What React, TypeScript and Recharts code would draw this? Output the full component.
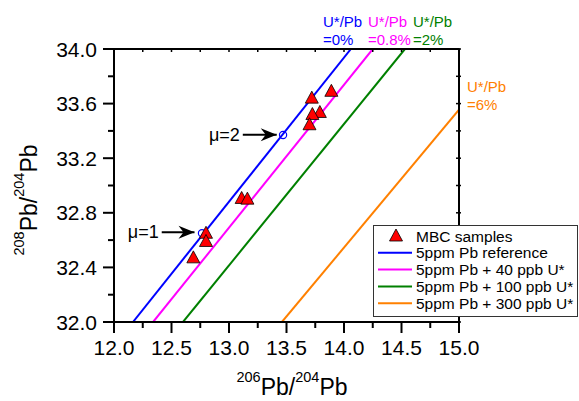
import React from 'react';
import { ComposedChart, Line, Scatter, XAxis, YAxis } from 'recharts';

const FONT = "Arial, 'Liberation Sans', Helvetica, sans-serif";

// axis ticks
const xMajorTicks = [12.0, 12.5, 13.0, 13.5, 14.0, 14.5, 15.0];
const xMinorTicks = [12.25, 12.75, 13.25, 13.75, 14.25, 14.75];
const yMajorTicks = [32.0, 32.4, 32.8, 33.2, 33.6, 34.0];
const yMinorTicks = [32.2, 32.6, 33.0, 33.4, 33.8];

// MBC samples
const sampleX = [13.72, 13.89, 13.79, 13.725, 13.70, 13.11, 13.16, 12.80, 12.80, 12.69];
const sampleY = [33.64, 33.69, 33.535, 33.52, 33.445, 32.905, 32.90, 32.65, 32.59, 32.47];

// mu markers and arrows
const muLabels = ['μ=1', 'μ=2'];
const muX = [12.765, 13.47];
const muY = [32.65, 33.37];
const arrowStartX = [12.415, 13.12];
const arrowEndX = [12.70, 13.415];
const arrowY = [32.657, 33.372];

// reference growth lines
const refNames = [
  '5ppm Pb reference',
  '5ppm Pb + 40 ppb U*',
  '5ppm Pb + 100 ppb U*',
  '5ppm Pb + 300 ppb U*',
];
const refColors = ['#0000FF', '#FF00FF', '#008000', '#FF8000'];
const refStartX = [12.165, 12.34, 12.60, 13.46];
const refStartY = [32.0, 32.0, 32.0, 32.0];
const refEndX = [14.06, 14.25, 14.53, 15.0];
const refEndY = [34.0, 34.0, 34.0, 33.555];
const ratioTop = ['U*/Pb', 'U*/Pb', 'U*/Pb', 'U*/Pb'];
const ratioBottom = ['=0%', '=0.8%', '=2%', '=6%'];
const ratioLabelPos = [
  [323, 27],
  [368, 27],
  [413, 27],
  [467, 92],
];

const sampleData = sampleX.map((x, i) => ({ x, y: sampleY[i] }));
const muData = muX.map((x, i) => ({ x, y: muY[i] }));
const arrowTipData = arrowEndX.map((x, i) => ({ x, y: arrowY[i] }));
const arrowLabelData = arrowStartX.map((x, i) => ({ x, y: arrowY[i], label: muLabels[i] }));
const arrowLines = arrowStartX.map((x, i) => [
  { x, y: arrowY[i] },
  { x: arrowEndX[i], y: arrowY[i] },
]);
const refLines = refNames.map((name, i) => ({
  name,
  color: refColors[i],
  data: [
    { x: refStartX[i], y: refStartY[i] },
    { x: refEndX[i], y: refEndY[i] },
  ],
}));

const allX = [...xMajorTicks, ...xMinorTicks].sort((a, b) => a - b);
const allY = [...yMajorTicks, ...yMinorTicks].sort((a, b) => a - b);

const XTick = (props: any) => {
  const { x, y, payload } = props;
  const major = xMajorTicks.includes(payload.value);
  return (
    <g>
      <line x1={x} y1={y} x2={x} y2={y + (major ? 11 : 6)} stroke="#000" strokeWidth={2} />
      {major && (
        <text x={x} y={y + 33} textAnchor="middle" fontSize={21} fontFamily={FONT} fill="#000">
          {payload.value.toFixed(1)}
        </text>
      )}
    </g>
  );
};

const YTick = (props: any) => {
  const { x, y, payload } = props;
  const major = yMajorTicks.includes(payload.value);
  return (
    <g>
      <line x1={x} y1={y} x2={x - (major ? 11 : 6)} y2={y} stroke="#000" strokeWidth={2} />
      {major && (
        <text x={x - 17} y={y + 7.5} textAnchor="end" fontSize={21} fontFamily={FONT} fill="#000">
          {payload.value.toFixed(1)}
        </text>
      )}
    </g>
  );
};

const TopTick = (props: any) => {
  const { x, y } = props;
  return <line x1={x} y1={y - 1} x2={x} y2={y + 3} stroke="#000" strokeWidth={1.5} />;
};

const RightTick = (props: any) => {
  const { x, y } = props;
  return <line x1={x - 3} y1={y} x2={x + 2} y2={y} stroke="#000" strokeWidth={1.5} />;
};

const Triangle = (props: any) => {
  const { cx, cy } = props;
  return (
    <polygon
      points={`${cx},${cy - 7} ${cx - 6.5},${cy + 5} ${cx + 6.5},${cy + 5}`}
      fill="#FF0000"
      stroke="#000"
      strokeWidth={0.8}
    />
  );
};

const MuCircle = (props: any) => {
  const { cx, cy } = props;
  return <circle cx={cx} cy={cy} r={3.6} fill="none" stroke="#0000FF" strokeWidth={1.2} />;
};

const ArrowHead = (props: any) => {
  const { cx, cy } = props;
  return (
    <polygon
      points={`${cx},${cy} ${cx - 16},${cy - 6.5} ${cx - 11},${cy} ${cx - 16},${cy + 6.5}`}
      fill="#000"
    />
  );
};

const ArrowLabel = (props: any) => {
  const { cx, cy, payload } = props;
  return (
    <text x={cx - 3} y={cy + 6} textAnchor="end" fontSize={18} fontFamily={FONT} fill="#000">
      {payload.label}
    </text>
  );
};

export default function App() {
  return (
    <div style={{ position: 'absolute', left: 0, top: 0, width: 579, height: 401, background: '#fff', overflow: 'hidden' }}>
      <ComposedChart
        width={579}
        height={401}
        margin={{ top: 48, right: 119, left: 0, bottom: 0 }}
      >
        <XAxis
          xAxisId="b"
          dataKey="x"
          type="number"
          domain={[12, 15]}
          ticks={allX}
          interval={0}
          allowDataOverflow
          height={79}
          tickSize={0}
          tickMargin={0}
          tick={<XTick />}
          axisLine={{ stroke: '#000', strokeWidth: 2 }}
        />
        <XAxis
          xAxisId="t"
          dataKey="x"
          type="number"
          orientation="top"
          domain={[12, 15]}
          ticks={allX}
          interval={0}
          allowDataOverflow
          height={1}
          tickSize={0}
          tickMargin={0}
          tick={<TopTick />}
          axisLine={{ stroke: '#000', strokeWidth: 2 }}
        />
        <YAxis
          yAxisId="l"
          type="number"
          domain={[32, 34]}
          ticks={allY}
          interval={0}
          allowDataOverflow
          width={114}
          tickSize={0}
          tickMargin={0}
          tick={<YTick />}
          axisLine={{ stroke: '#000', strokeWidth: 2 }}
        />
        <YAxis
          yAxisId="r"
          orientation="right"
          type="number"
          domain={[32, 34]}
          ticks={allY}
          interval={0}
          allowDataOverflow
          width={1}
          tickSize={0}
          tickMargin={0}
          tick={<RightTick />}
          axisLine={{ stroke: '#000', strokeWidth: 2 }}
        />
        {refLines.map((r) => (
          <Line
            key={r.name}
            xAxisId="b"
            yAxisId="l"
            data={r.data}
            dataKey="y"
            stroke={r.color}
            strokeWidth={2}
            dot={false}
            activeDot={false}
            isAnimationActive={false}
          />
        ))}
        {arrowLines.map((d, i) => (
          <Line
            key={'arrow' + i}
            xAxisId="b"
            yAxisId="l"
            data={d}
            dataKey="y"
            stroke="#000"
            strokeWidth={2}
            dot={false}
            activeDot={false}
            isAnimationActive={false}
          />
        ))}
        <Scatter xAxisId="b" yAxisId="l" data={arrowTipData} dataKey="y" shape={<ArrowHead />} isAnimationActive={false} />
        <Scatter xAxisId="b" yAxisId="l" data={arrowLabelData} dataKey="y" shape={<ArrowLabel />} isAnimationActive={false} />
        <Scatter xAxisId="b" yAxisId="l" data={muData} dataKey="y" shape={<MuCircle />} isAnimationActive={false} />
        <Scatter xAxisId="b" yAxisId="l" data={sampleData} dataKey="y" shape={<Triangle />} isAnimationActive={false} />
      </ComposedChart>

      <svg width={579} height={401} style={{ position: 'absolute', left: 0, top: 0, pointerEvents: 'none' }}>
        {ratioLabelPos.map((p, i) => (
          <text key={i} x={p[0]} y={p[1]} fontSize={15} fontFamily={FONT} fill={refColors[i]}>
            <tspan x={p[0]} y={p[1]}>{ratioTop[i]}</tspan>
            <tspan x={p[0]} y={p[1] + 18}>{ratioBottom[i]}</tspan>
          </text>
        ))}
        <text x={37} y={200} transform="rotate(-90 37 200)" textAnchor="middle" fontSize={23} fontFamily={FONT} fill="#000">
          <tspan fontSize={14.5} dy={-13}>208</tspan>
          <tspan dy={13}>Pb/</tspan>
          <tspan fontSize={14.5} dy={-13}>204</tspan>
          <tspan dy={13}>Pb</tspan>
        </text>
        <text x={292} y={395} textAnchor="middle" fontSize={23} fontFamily={FONT} fill="#000">
          <tspan fontSize={14.5} dy={-13}>206</tspan>
          <tspan dy={13}>Pb/</tspan>
          <tspan fontSize={14.5} dy={-13}>204</tspan>
          <tspan dy={13}>Pb</tspan>
        </text>
      </svg>

      <div
        style={{
          position: 'absolute',
          left: 373,
          top: 225,
          width: 203,
          height: 90,
          border: '1px solid #333',
          background: '#fff',
        }}
      >
        <svg width={203} height={90} style={{ display: 'block' }}>
          <polygon points="22,3 15.5,15 28.5,15" fill="#FF0000" stroke="#000" strokeWidth={0.8} />
          <text x={42} y={15.5} fontSize={15.5} fontFamily={FONT} fill="#000">MBC samples</text>
          {refNames.map((n, i) => {
            const cy = 10 + 16.8 * (i + 1);
            return (
              <g key={n}>
                <line x1={4} y1={cy} x2={38} y2={cy} stroke={refColors[i]} strokeWidth={2} />
                <text x={42} y={cy + 5.5} fontSize={15.5} fontFamily={FONT} fill="#000">{n}</text>
              </g>
            );
          })}
        </svg>
      </div>
    </div>
  );
}
